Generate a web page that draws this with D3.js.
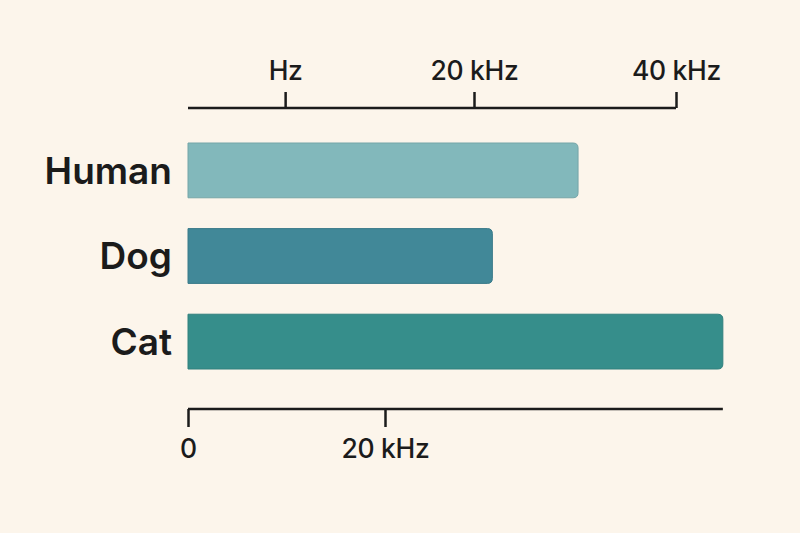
<!DOCTYPE html>
<html>
<head>
<meta charset="utf-8">
<script src="https://cdn.jsdelivr.net/npm/d3@7"></script>
<style>
  html, body { margin: 0; padding: 0; background: #fcf5eb; }
  svg { display: block; }
  text { font-family: Inter, "Noto Sans", sans-serif; fill: #1b1b1b; }
</style>
</head>
<body>
<svg id="chart" width="800" height="533"></svg>
<script>
// ---- data ----
const categories = ["Human", "Dog", "Cat"];
const hearingKHz = [39.6, 30.9, 54.3];
const barColors = ["#82b8bb", "#418898", "#368e8b"];
const topTickValues = [1.3, 20, 40];
const topTickLabels = ["Hz", "20 kHz", "40 kHz"];
const bottomTickValues = [0, 20];
const bottomTickLabels = ["0", "20 kHz"];

const svg = d3.select("#chart");
svg.append("rect").attr("width", 800).attr("height", 533).attr("fill", "#fcf5eb");

// scales
const x = d3.scaleLinear().domain([0, 20]).range([188, 385]);           // bottom scale
const xTop = d3.scaleLinear().domain([20, 40]).range([474, 676]);      // top scale
const y = d3.scaleBand().domain(categories).range([143, 369]).paddingInner(0.36).paddingOuter(0);

const topY = 108, bottomY = 409;

// top axis
const topAxis = d3.axisTop(xTop)
  .tickValues(topTickValues)
  .tickFormat((d, i) => topTickLabels[i])
  .tickSize(16).tickPadding(12);
const gTop = svg.append("g").attr("transform", `translate(0,${topY})`).call(topAxis);
gTop.select(".domain").remove();
gTop.append("line").attr("x1", x(0)).attr("x2", xTop(40)).attr("y1", 0).attr("y2", 0)
  .attr("stroke", "#1b1b1b").attr("stroke-width", 2.5);
gTop.selectAll(".tick line").attr("stroke", "#1b1b1b").attr("stroke-width", 2.5);
gTop.selectAll(".tick text").attr("font-size", 26.5).attr("font-weight", 500)
  .attr("fill", "#1b1b1b").style("font-family", "Inter, sans-serif").style("letter-spacing", "-0.3px");

// bottom axis
const bottomAxis = d3.axisBottom(x)
  .tickValues(bottomTickValues)
  .tickFormat((d, i) => bottomTickLabels[i])
  .tickSize(18).tickPadding(12);
const gBot = svg.append("g").attr("transform", `translate(0,${bottomY})`).call(bottomAxis);
gBot.select(".domain").remove();
gBot.append("line").attr("x1", x(0)).attr("x2", x(54.3)).attr("y1", 0).attr("y2", 0)
  .attr("stroke", "#1b1b1b").attr("stroke-width", 2.5);
gBot.selectAll(".tick line").attr("stroke", "#1b1b1b").attr("stroke-width", 2.5);
gBot.selectAll(".tick text").attr("font-size", 26.5).attr("font-weight", 500)
  .attr("fill", "#1b1b1b").style("font-family", "Inter, sans-serif").style("letter-spacing", "-0.3px");

// bars with rounded right corners
function barPath(x0, x1, y0, h, r) {
  return `M${x0},${y0} H${x1 - r} Q${x1},${y0} ${x1},${y0 + r} V${y0 + h - r} Q${x1},${y0 + h} ${x1 - r},${y0 + h} H${x0} Z`;
}
const rows = categories.map((c, i) => ({ c, v: hearingKHz[i], color: barColors[i] }));
svg.append("g").selectAll("path").data(rows).join("path")
  .attr("d", d => barPath(x(0), x(d.v), y(d.c), y.bandwidth(), 5))
  .attr("fill", d => d.color)
  .attr("stroke", d => d3.color(d.color).darker(0.3))
  .attr("stroke-width", 1);

// category labels
svg.append("g").selectAll("text").data(rows).join("text")
  .attr("x", 172)
  .attr("y", d => y(d.c) + y.bandwidth() / 2)
  .attr("dy", "0.36em")
  .attr("text-anchor", "end")
  .attr("font-size", 37)
  .attr("font-weight", 600)
  .text(d => d.c);
</script>
</body>
</html>
